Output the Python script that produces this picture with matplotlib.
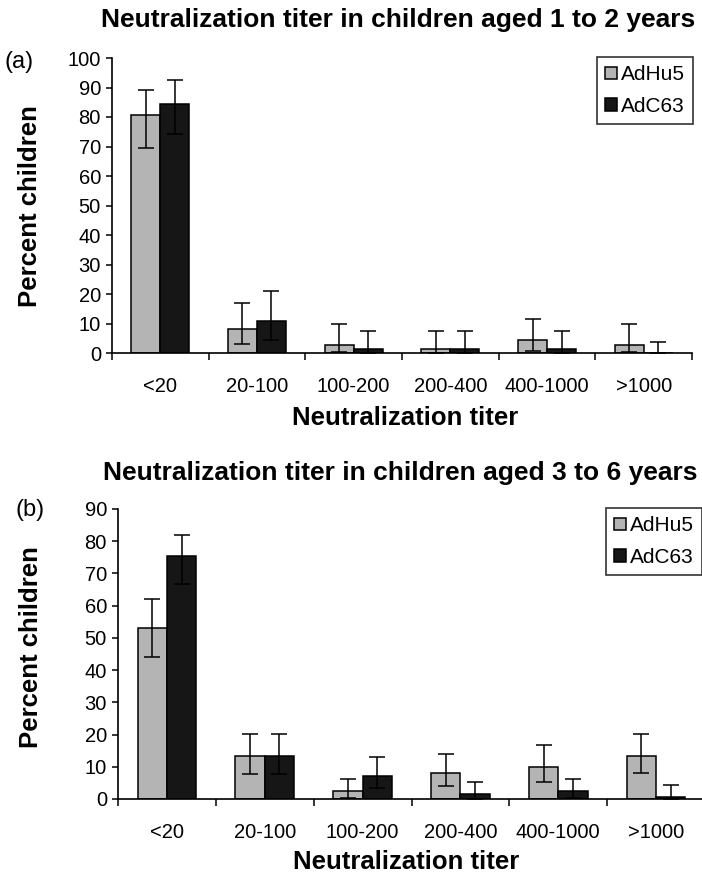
import matplotlib
matplotlib.use("Agg")
import matplotlib.pyplot as plt
from matplotlib.ticker import FixedLocator, NullFormatter
import numpy as np

plt.rcParams['font.family'] = ['Liberation Sans', 'DejaVu Sans']

categories = ["<20", "20-100", "100-200", "200-400", "400-1000", ">1000"]
series_names = ["AdHu5", "AdC63"]

# panel (a): children aged 1 to 2 years
a_hu5 = [80.6, 8.3, 2.7, 1.5, 4.5, 2.7]
a_hu5_lo = [69.5, 3.2, 0.3, 0.0, 0.8, 0.3]
a_hu5_hi = [89.0, 17.0, 10.0, 7.6, 11.5, 10.0]
a_c63 = [84.5, 10.9, 1.5, 1.5, 1.5, 0.0]
a_c63_lo = [74.3, 4.5, 0.0, 0.0, 0.0, 0.0]
a_c63_hi = [92.4, 21.0, 7.6, 7.6, 7.6, 3.8]

# panel (b): children aged 3 to 6 years
b_hu5 = [53.2, 13.3, 2.6, 8.1, 9.8, 13.3]
b_hu5_lo = [44.0, 7.8, 0.2, 3.9, 5.4, 8.0]
b_hu5_hi = [62.1, 20.3, 6.3, 13.9, 16.9, 20.3]
b_c63 = [75.3, 13.3, 7.0, 1.4, 2.6, 0.7]
b_c63_lo = [66.7, 7.8, 3.3, 0.0, 0.3, 0.0]
b_c63_hi = [82.0, 20.3, 12.9, 5.4, 6.3, 4.3]

W, H = 702, 877
fig = plt.figure(figsize=(W / 100, H / 100), dpi=100)

gray = "#b4b4b4"
dark = "#161616"


def panel(rect, hu5, hu5_lo, hu5_hi, c63, c63_lo, c63_hi, ymax, legend_anchor, legend_loc):
    l, b, r, t = rect
    ax = fig.add_axes([l / W, 1 - b / H, (r - l) / W, (b - t) / H])
    x = np.arange(len(categories))
    w = 0.3
    hu5 = np.array(hu5)
    c63 = np.array(c63)
    err1 = [hu5 - np.array(hu5_lo), np.array(hu5_hi) - hu5]
    err2 = [c63 - np.array(c63_lo), np.array(c63_hi) - c63]
    ax.bar(x - w / 2, hu5, w, color=gray, edgecolor="black", linewidth=1.1, label=series_names[0])
    ax.bar(x + w / 2, c63, w, color=dark, edgecolor="black", linewidth=1.1, label=series_names[1])
    ax.errorbar(x - w / 2, hu5, yerr=err1, fmt="none", ecolor="black", elinewidth=1.1, capsize=6, capthick=1.1)
    ax.errorbar(x + w / 2, c63, yerr=err2, fmt="none", ecolor="black", elinewidth=1.1, capsize=6, capthick=1.1)
    ax.set_xlim(-0.5, len(categories) - 0.5)
    ax.set_ylim(0, ymax)
    ax.set_yticks(np.arange(0, ymax + 1, 10))
    ax.xaxis.set_major_locator(FixedLocator(np.arange(-0.5, len(categories), 1.0)))
    ax.xaxis.set_major_formatter(NullFormatter())
    ax.xaxis.set_minor_locator(FixedLocator(x))
    ax.set_xticklabels(categories, minor=True)
    ax.tick_params(axis="x", which="major", length=5, width=1.1, direction="out")
    ax.tick_params(axis="x", which="minor", length=0, pad=17, labelsize=14.5)
    ax.tick_params(axis="y", length=4, width=1.1, direction="out", labelsize=14.5, pad=4)
    for s in ["top", "right"]:
        ax.spines[s].set_visible(False)
    for s in ["left", "bottom"]:
        ax.spines[s].set_linewidth(1.2)
    leg = ax.legend(loc=legend_loc, bbox_to_anchor=legend_anchor, bbox_transform=fig.transFigure,
                    fontsize=15, frameon=True, fancybox=False, edgecolor="black",
                    handlelength=0.55, handleheight=0.55, handletextpad=0.2,
                    labelspacing=0.6, borderpad=0.4, borderaxespad=0)
    leg.get_frame().set_linewidth(1.2)
    return ax


panel((112, 353, 692, 58), a_hu5, a_hu5_lo, a_hu5_hi, a_c63, a_c63_lo, a_c63_hi, 100,
      (693 / W, 1 - 57 / H), "upper right")
panel((118, 799, 705, 509), b_hu5, b_hu5_lo, b_hu5_hi, b_c63, b_c63_lo, b_c63_hi, 90,
      (606 / W, 1 - 508 / H), "upper left")

tfont = dict(fontsize=19, fontweight="bold", ha="center", va="center")
lfont = dict(fontsize=18.5, fontweight="bold", ha="center", va="center")
fig.text(398 / W, 1 - 20 / H, "Neutralization titer in children aged 1 to 2 years", **tfont)
fig.text(400 / W, 1 - 473 / H, "Neutralization titer in children aged 3 to 6 years", **tfont)
fig.text(405 / W, 1 - 418 / H, "Neutralization titer", **lfont)
fig.text(406 / W, 1 - 862 / H, "Neutralization titer", **lfont)
fig.text(30 / W, 1 - 206 / H, "Percent children", rotation=90, **lfont)
fig.text(31 / W, 1 - 647 / H, "Percent children", rotation=90, **lfont)
fig.text(19 / W, 1 - 62 / H, "(a)", fontsize=17, ha="center", va="center")
fig.text(30 / W, 1 - 510 / H, "(b)", fontsize=17, ha="center", va="center")

fig.savefig("out.png", dpi=100)
